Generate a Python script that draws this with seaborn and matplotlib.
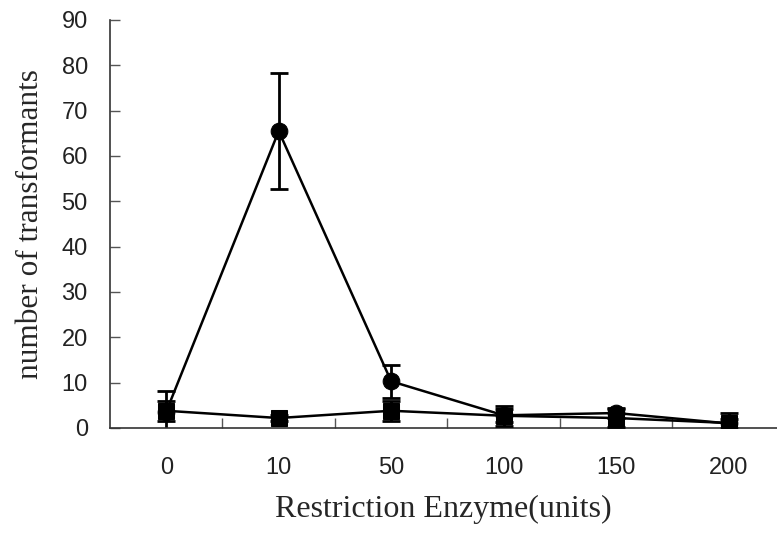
import matplotlib
matplotlib.use('Agg')
import matplotlib.pyplot as plt
import pandas as pd
import seaborn as sns

# data
enzyme_units = ['0', '10', '50', '100', '150', '200']
circle_mean = [3.6, 65.5, 10.3, 2.8, 3.3, 1.0]
circle_err = [4.6, 12.7, 3.7, 1.5, 1.2, 1.0]
square_mean = [3.8, 2.2, 3.8, 2.7, 2.2, 1.1]
square_err = [2.2, 0.7, 2.2, 2.2, 1.9, 2.2]

sns.set_theme(style="ticks")

df_circle = pd.DataFrame({'units': enzyme_units, 'count': circle_mean})
df_square = pd.DataFrame({'units': enzyme_units, 'count': square_mean})

fig = plt.figure(figsize=(7.77, 5.33), dpi=100)
ax = fig.add_axes([110 / 777, 105 / 533, 667 / 777, 408 / 533])

# circles (behind)
ax.errorbar(enzyme_units, circle_mean, yerr=circle_err, fmt='none', ecolor='black',
            elinewidth=2, capsize=6.5, capthick=2, zorder=2)
sns.lineplot(data=df_circle, x='units', y='count', ax=ax, color='black', linewidth=1.8,
             marker='o', markersize=12, markeredgecolor='black', zorder=3, sort=False)

# squares (front)
ax.errorbar(enzyme_units, square_mean, yerr=square_err, fmt='none', ecolor='black',
            elinewidth=2, capsize=6.5, capthick=2, zorder=4)
sns.lineplot(data=df_square, x='units', y='count', ax=ax, color='black', linewidth=1.8,
             marker='s', markersize=12, markeredgecolor='black', zorder=5, sort=False)

ax.set_xlim(-0.5, 5.43)
ax.set_ylim(0, 90)
ax.set_yticks(range(0, 91, 10))

sns.despine(ax=ax)
for side in ['left', 'bottom']:
    ax.spines[side].set_color('#333333')
    ax.spines[side].set_linewidth(1.2)

# tick marks: y inward, x at category boundaries
ax.tick_params(axis='y', direction='in', length=7, width=1, color='#555555',
               labelsize=17, labelcolor='#222222', pad=16)
ax.tick_params(axis='x', which='major', length=0, labelsize=17, labelcolor='#222222', pad=21)
ax.set_xticks([i + 0.5 for i in range(len(enzyme_units) - 1)], minor=True)
ax.tick_params(axis='x', which='minor', direction='in', length=7, width=1, color='#555555')
for lbl in ax.get_xticklabels() + ax.get_yticklabels():
    lbl.set_family('Liberation Sans')

ax.set_xlabel('Restriction Enzyme(units)', fontsize=23, family='Liberation Serif', labelpad=11)
ax.set_ylabel('number of transformants', fontsize=22.5, family='Liberation Serif', labelpad=12)

fig.savefig('out.png', dpi=100)
